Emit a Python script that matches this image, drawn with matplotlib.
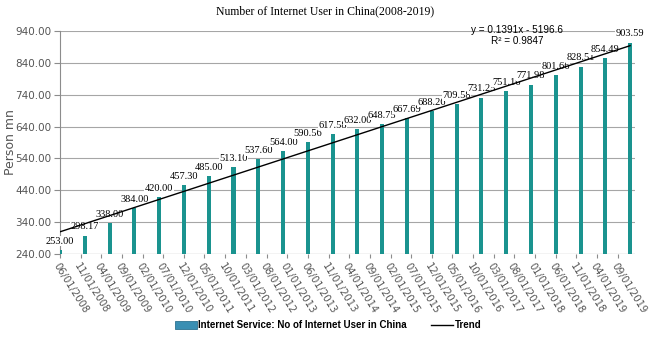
import matplotlib
matplotlib.use("Agg")
import matplotlib.pyplot as plt
import matplotlib.dates as mdates
from matplotlib.patches import Patch
from matplotlib.lines import Line2D
import numpy as np
import datetime as dt

# Data
dates = ["2008-06-01", "2008-12-01", "2009-06-01", "2009-12-01", "2010-06-01", "2010-12-01",
         "2011-06-01", "2011-12-01", "2012-06-01", "2012-12-01", "2013-06-01", "2013-12-01",
         "2014-06-01", "2014-12-01", "2015-06-01", "2015-12-01", "2016-06-01", "2016-12-01",
         "2017-06-01", "2017-12-01", "2018-06-01", "2018-12-01", "2019-06-01", "2019-12-01"]
users = [253.00, 298.17, 338.00, 384.00, 420.00, 457.30, 485.00, 513.10, 537.60, 564.00,
         590.56, 617.58, 632.00, 648.75, 667.69, 688.26, 709.58, 731.25, 751.16, 771.98,
         801.66, 828.51, 854.49, 903.59]
tick_dates = ["2008-06-01", "2008-11-01", "2009-04-01", "2009-09-01", "2010-02-01", "2010-07-01",
              "2010-12-01", "2011-05-01", "2011-10-01", "2012-03-01", "2012-08-01", "2013-01-01",
              "2013-06-01", "2013-11-01", "2014-04-01", "2014-09-01", "2015-02-01", "2015-07-01",
              "2015-12-01", "2016-05-01", "2016-10-01", "2017-03-01", "2017-08-01", "2018-01-01",
              "2018-06-01", "2018-11-01", "2019-04-01", "2019-09-01"]
y_ticks = [240, 340, 440, 540, 640, 740, 840, 940]
title = "Number of Internet User in China(2008-2019)"
series_name = "Internet Service: No of Internet User in China"
trend_name = "Trend"
eq_text = "y = 0.1391x - 5196.6"
r2_text = "R\u00b2 = 0.9847"

d = [dt.datetime.strptime(s, "%Y-%m-%d") for s in dates]
td = [dt.datetime.strptime(s, "%Y-%m-%d") for s in tick_dates]
xn = mdates.date2num(d)

fig = plt.figure(figsize=(6.5, 3.37), dpi=100)
ax = fig.add_axes([0.0923, 0.246, 0.885, 0.662])

bar_color = "#1a938f"
ax.bar(d, users, width=30, color=bar_color, zorder=3)

# trend line (linear fit)
coef = np.polyfit(xn, users, 1)
ax.plot(d, np.polyval(coef, xn), color="black", lw=1.0, zorder=5)

for xi, yi in zip(d, users):
    ax.annotate(f"{yi:.2f}", (mdates.date2num(xi), yi), xytext=(0, 3), textcoords="offset points",
                ha="center", va="bottom", fontsize=7.5, family="Liberation Serif", color="black",
                bbox=dict(facecolor="white", edgecolor="none", pad=0.3), zorder=4)

narrow = ["Liberation Sans Narrow", "Liberation Sans", "DejaVu Sans"]
ax.text(0.795, 1.005, eq_text, transform=ax.transAxes, ha="center", va="center",
        fontsize=7.2, family=narrow, zorder=6)
ax.text(0.795, 0.955, r2_text, transform=ax.transAxes, ha="center", va="center",
        fontsize=7.2, family=narrow, zorder=6)

ax.set_ylim(240, 940)
ax.set_yticks(y_ticks)
ax.set_yticklabels([f"{v:.2f}" for v in y_ticks], fontsize=7.5, color="#555555",
                   family="DejaVu Sans")
ax.grid(axis="y", color="#a6a6a6", lw=0.8, zorder=0)
ax.set_axisbelow(True)

ax.set_xlim(mdates.date2num(d[0]), mdates.date2num(dt.datetime(2020, 1, 8)))
ax.set_xticks(td)
ax.set_xticklabels([t.strftime("%m/%d/%Y") for t in td], rotation=-58, ha="left",
                   rotation_mode="anchor", fontsize=7.2, color="#555555")

for s in ["top", "right", "bottom"]:
    ax.spines[s].set_visible(False)
ax.spines["left"].set_color("#8c8c8c")
ax.tick_params(axis="y", length=4, color="#8c8c8c", pad=2)
ax.tick_params(axis="x", length=3, color="#8c8c8c", pad=2)
ax.axhline(240, color="#8c8c8c", lw=0.8, zorder=1)

ax.set_ylabel("Person mn", fontsize=9, color="#555555")
ax.yaxis.set_label_coords(-0.075, 0.5)

fig.text(0.5, 0.965, title, ha="center", va="center", fontsize=8.5, family="Liberation Serif")

handles = [Patch(facecolor="#3a8fb3", edgecolor="#2d7391", lw=0.6),
           Line2D([0], [0], color="black", lw=1.0)]
fig.legend(handles, [series_name, trend_name], loc="center", bbox_to_anchor=(0.505, 0.035),
           ncol=2, frameon=False, prop={"family": narrow, "weight": "bold", "size": 7.0},
           handlelength=2.2, handleheight=0.8, columnspacing=2.5, handletextpad=0.2)

fig.savefig("out.png", dpi=100)
